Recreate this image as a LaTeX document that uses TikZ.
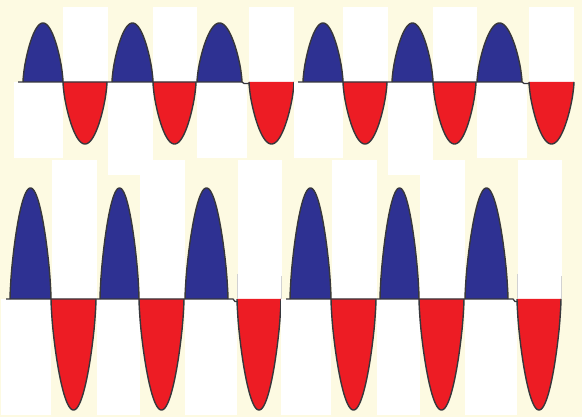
\documentclass[tikz,border=0pt]{standalone}
\usepackage{tikz}

\definecolor{paper}{RGB}{253,250,226}
\definecolor{waveblue}{RGB}{46,49,146}
\definecolor{wavered}{RGB}{237,28,36}
\definecolor{waveline}{RGB}{55,55,60}

\begin{document}
\begin{tikzpicture}[x=1pt, y=-1pt,
	lobe/.style={draw=waveline, line width=1.4pt, line join=round},
	axisline/.style={draw=waveline, line width=1.3pt},
	seam/.style={draw=gray!35, line width=0.5pt}]
	\fill[paper] (0,0) rectangle (582,417);
	\useasboundingbox (0,0) rectangle (582,417);
	\foreach \g in {0,280} {
		% white pieces behind the small waves
		\foreach \a/\b in {63/108,153/197,249/294}
			\fill[white] (\g+\a,7) rectangle (\g+\b,82);
		\foreach \a/\b/\d in {14/63/158,108/153/175,197/247/158}
			\fill[white] (\g+\a,82) rectangle (\g+\b,\d);
		% white pieces behind the tall waves
		\foreach \a/\b in {52/97,140/185,238/282}
			\fill[white] (\g+\a,160) rectangle (\g+\b,299);
		\foreach \a/\b in {1/51,97/140,185/237}
			\fill[white] (\g+\a,299) rectangle (\g+\b,415);
		% small waves
		\foreach \a/\b/\h/\c in {23/63/59/waveblue, 63/107/-62/wavered, 112/153/59/waveblue,
				153/196/-62/wavered, 197/242/59/waveblue, 249/294/-62/wavered}
			\filldraw[lobe, fill=\c] (\g+\a,82) -- plot[domain=1:179, samples=50]
				({\g+\a+(\b-\a)*\x/180}, {82-(\h)*sin(\x)^0.65}) -- (\g+\b,82);
		\draw[axisline] (\g+18,82) -- (\g+242,82) -- (\g+244,83.5) -- (\g+249,83.5);
		% tall waves
		\foreach \a/\b/\h/\c in {10/51/111/waveblue, 51/96/-111/wavered, 100/139/111/waveblue,
				139/184/-111/wavered, 185/228/111/waveblue, 237/281/-111/wavered}
			\filldraw[lobe, fill=\c] (\g+\a,299) -- plot[domain=1:179, samples=50]
				({\g+\a+(\b-\a)*\x/180}, {299-(\h)*sin(\x)^0.65}) -- (\g+\b,299);
		\draw[axisline] (\g+6,299) -- (\g+233,299) -- (\g+235,301.5) -- (\g+237,301.5);
		\draw[seam] (\g+237,274) -- (\g+237,299);
		\draw[seam] (\g+281,276) -- (\g+281,299);
	}
\end{tikzpicture}
\end{document}
